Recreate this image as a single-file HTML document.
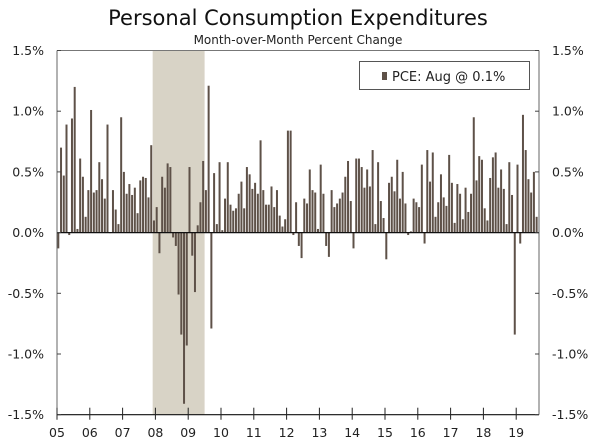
<!DOCTYPE html>
<html><head><meta charset="utf-8"><style>
body{margin:0;background:#fff;}
svg{display:block;font-family:"DejaVu Sans","Liberation Sans",sans-serif;}
</style></head><body>
<svg id="chart" width="600" height="448" viewBox="0 0 600 448">
<text x="298" y="25" text-anchor="middle" font-size="21" fill="#111">Personal Consumption Expenditures</text>
<text x="298" y="44" text-anchor="middle" font-size="12" fill="#222">Month-over-Month Percent Change</text>
<g id="plot"></g>
<g>
<rect x="359.5" y="61.5" width="170" height="28" fill="#fff" stroke="#555" stroke-width="1"/>
<rect x="382" y="72" width="5" height="8" fill="#5e5148"/>
<text x="392" y="81" font-size="13" fill="#222">PCE: Aug @ 0.1%</text>
</g>
</svg>
<script>
const years = ["05","06","07","08","09","10","11","12","13","14","15","16","17","18","19"];
const yTicks = [1.5,1.0,0.5,0.0,-0.5,-1.0,-1.5];
const yTickLabels = ["1.5%","1.0%","0.5%","0.0%","-0.5%","-1.0%","-1.5%"];
const recessionStart = 35; // month index Dec 2007
const recessionEnd = 54;   // month index Jun 2009 (end)
const pce2005 = [-0.13,0.70,0.47,0.89,-0.02,0.94,1.20,0.03,0.61,0.46,0.13,0.35];
const pce2006 = [1.01,0.33,0.35,0.58,0.44,0.28,0.89,0.00,0.35,0.19,0.07,0.95];
const pce2007 = [0.50,0.32,0.40,0.31,0.37,0.16,0.43,0.46,0.45,0.29,0.72,0.10];
const pce2008 = [0.21,-0.17,0.46,0.37,0.57,0.54,-0.04,-0.11,-0.51,-0.84,-1.41,-0.93];
const pce2009 = [0.54,-0.19,-0.49,0.06,0.25,0.59,0.35,1.21,-0.79,0.49,0.07,0.58];
const pce2010 = [0.02,0.28,0.58,0.23,0.18,0.20,0.32,0.42,0.20,0.54,0.48,0.36];
const pce2011 = [0.41,0.32,0.76,0.35,0.23,0.23,0.38,0.21,0.35,0.14,0.05,0.11];
const pce2012 = [0.84,0.84,-0.02,0.25,-0.11,-0.21,0.28,0.24,0.52,0.35,0.33,0.03];
const pce2013 = [0.56,0.32,-0.11,-0.20,0.35,0.21,0.24,0.28,0.33,0.46,0.59,0.26];
const pce2014 = [-0.13,0.61,0.61,0.54,0.37,0.52,0.38,0.68,0.07,0.58,0.26,0.12];
const pce2015 = [-0.22,0.41,0.46,0.34,0.60,0.28,0.50,0.24,-0.02,0.01,0.28,0.25];
const pce2016 = [0.21,0.56,-0.09,0.68,0.42,0.66,0.13,0.25,0.48,0.29,0.22,0.64];
const pce2017 = [0.41,0.08,0.40,0.32,0.11,0.37,0.17,0.32,0.95,0.43,0.63,0.60];
const pce2018 = [0.20,0.10,0.45,0.62,0.66,0.37,0.52,0.36,0.07,0.58,0.31,-0.84];
const pce2019 = [0.56,-0.09,0.97,0.68,0.44,0.33,0.50,0.13];
const values = [].concat(pce2005,pce2006,pce2007,pce2008,pce2009,pce2010,pce2011,pce2012,pce2013,pce2014,pce2015,pce2016,pce2017,pce2018,pce2019);

const L=57, R=539, T=50.5, B=414.7, yearW=32.8, monthW=yearW/12;
const yMin=-1.5, yMax=1.5;
function y(v){return B-(v-yMin)/(yMax-yMin)*(B-T);}
function x(i){return L+i*monthW;}
const NS="http://www.w3.org/2000/svg";
const g=document.getElementById('plot');
function mk(t,a){const e=document.createElementNS(NS,t);for(const k in a)e.setAttribute(k,a[k]);g.appendChild(e);return e;}

let sh=mk('rect',{x:x(recessionStart),y:T,width:x(recessionEnd)-x(recessionStart),height:B-T,fill:'#d8d3c6'});



values.forEach((v,i)=>{
  const y0=y(0), y1=y(v);
  const b=mk('rect',{x:x(i)+0.3,y:Math.min(y0,y1),width:2,height:Math.max(0.5,Math.abs(y1-y0)),fill:'#5e5148'});
  
  
});

mk('line',{x1:L,y1:T,x2:R,y2:T,stroke:'#777','stroke-width':1});
mk('line',{x1:L,y1:T,x2:L,y2:B,stroke:'#666','stroke-width':1});
mk('line',{x1:R,y1:T,x2:R,y2:B,stroke:'#666','stroke-width':1});
const zl=mk('line',{x1:L,y1:y(0),x2:R,y2:y(0),stroke:'#111','stroke-width':1.2});


mk('line',{x1:L,y1:B,x2:R,y2:B,stroke:'#111','stroke-width':1.2});

yTicks.forEach((t,k)=>{
  const yy=y(t);
  mk('line',{x1:L,y1:yy,x2:L+4,y2:yy,stroke:'#444'});
  mk('line',{x1:R-4,y1:yy,x2:R,y2:yy,stroke:'#444'});
  const a=mk('text',{x:44,y:yy+4.5,'text-anchor':'end','font-size':12.5,fill:'#222'});
  a.textContent=yTickLabels[k];
  
  
  const b=mk('text',{x:552,y:yy+4.5,'text-anchor':'start','font-size':12.5,fill:'#222'});
  b.textContent=yTickLabels[k];
  
  
});

years.forEach((yr,k)=>{
  const xx=L+k*yearW;
  mk('line',{x1:xx,y1:B-7,x2:xx,y2:B+5,stroke:'#222'});
  const t=mk('text',{x:xx,y:437,'text-anchor':'middle','font-size':12.5,fill:'#222'});
  t.textContent=yr;
  
  
});
</script>
</body></html>
